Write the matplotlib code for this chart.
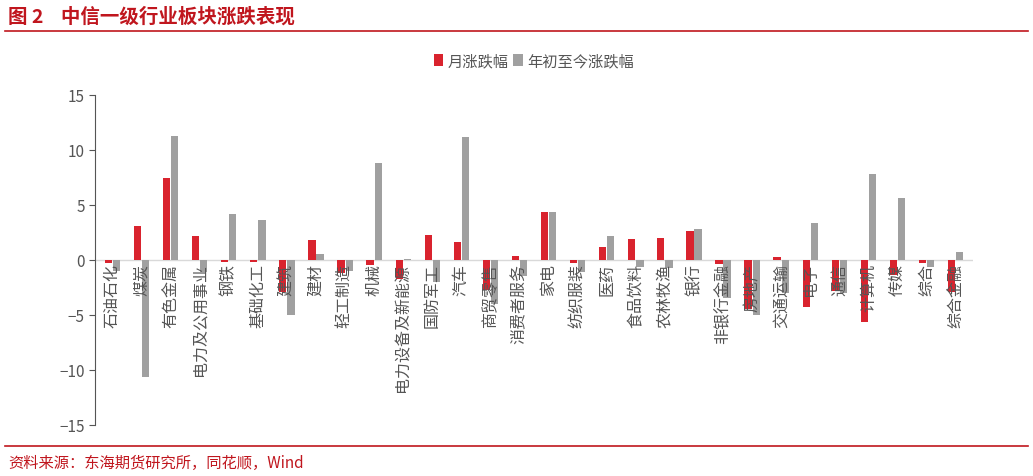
import matplotlib
matplotlib.use("Agg")
import matplotlib.pyplot as plt
import numpy as np

plt.rcParams['font.family'] = ['Noto Sans CJK SC', 'DejaVu Sans']

categories = ["石油石化", "煤炭", "有色金属", "电力及公用事业", "钢铁", "基础化工", "建筑", "建材",
              "轻工制造", "机械", "电力设备及新能源", "国防军工", "汽车", "商贸零售", "消费者服务", "家电",
              "纺织服装", "医药", "食品饮料", "农林牧渔", "银行", "非银行金融", "房地产", "交通运输",
              "电子", "通信", "计算机", "传媒", "综合", "综合金融"]
monthly = [-0.3, 3.1, 7.4, 2.2, -0.2, -0.2, -2.9, 1.8, -1.2, -0.5, -1.7, 2.3, 1.6, -2.7, 0.4, 4.4,
           -0.3, 1.2, 1.9, 2.0, 2.6, -0.4, -4.5, 0.3, -4.3, -2.8, -5.6, -1.4, -0.3, -2.9]
ytd = [-1.0, -10.6, 11.3, -1.1, 4.2, 3.6, -5.0, 0.5, -1.0, 8.8, 0.1, -2.0, 11.2, -4.0, -1.5, 4.4,
       -1.1, 2.2, -0.6, -0.7, 2.8, -3.5, -5.0, -3.0, 3.4, -3.0, 7.8, 5.6, -0.6, 0.7]
yticks = [-15, -10, -5, 0, 5, 10, 15]

red = '#d9232e'
gray = '#a0a0a0'

fig = plt.figure(figsize=(10.33, 4.77), dpi=100)
ax = fig.add_axes([0.092, 0.107, 0.85, 0.692])
x = np.arange(len(categories))
w = 0.25
ax.bar(x - 0.14, monthly, w, color=red, label='月涨跌幅', zorder=2)
ax.bar(x + 0.14, ytd, w, color=gray, label='年初至今涨跌幅', zorder=2)
ax.set_xlim(-0.6, len(categories) - 0.4)
ax.set_ylim(-15, 15)
ax.set_yticks(yticks)
ax.tick_params(axis='y', labelsize=11, colors='#555555', length=4)
ax.set_xticks([])
for s in ['top', 'right', 'bottom']:
    ax.spines[s].set_visible(False)
ax.spines['left'].set_color('#555555')
ax.axhline(0, color='#d9d9d9', lw=1, zorder=1)
for xi, c in zip(x, categories):
    ax.text(xi, -0.3, c, rotation=90, ha='center', va='top', fontsize=11.5,
            color='#555555', zorder=3)
ax.legend(loc='upper center', bbox_to_anchor=(0.5, 1.17), ncol=2, frameon=False,
          fontsize=11, handlelength=0.6, handleheight=0.8, columnspacing=0.3,
          handletextpad=0.3, labelcolor='#555555')

fig.text(0.008, 0.965, '图 2    中信一级行业板块涨跌表现', color='#c0161e', fontsize=14,
         fontweight='bold', va='center')
fig.add_artist(plt.Line2D([0.005, 0.995], [0.933, 0.933], color='#c0161e', lw=1.2))
fig.add_artist(plt.Line2D([0.005, 0.995], [0.062, 0.062], color='#c0161e', lw=1.2))
fig.text(0.008, 0.028, '资料来源：东海期货研究所，同花顺，Wind', color='#c0161e', fontsize=11,
         va='center')
fig.savefig('out.png', dpi=100)
